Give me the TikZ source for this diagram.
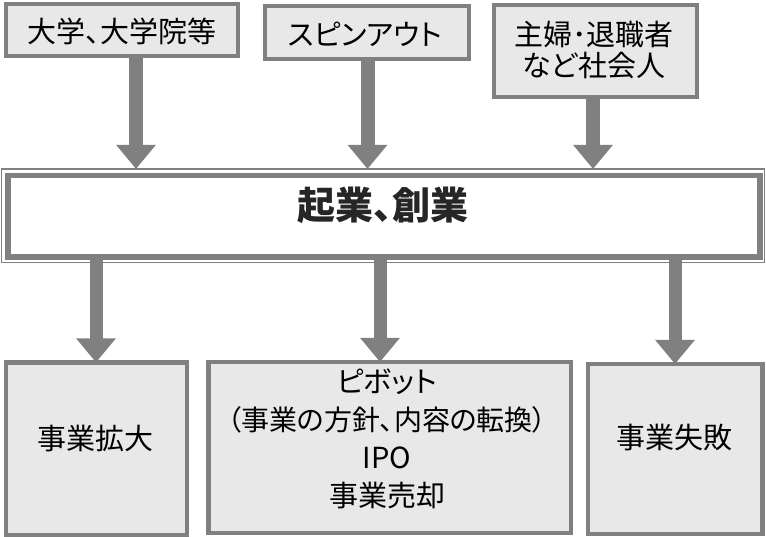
\documentclass[tikz,border=0pt]{standalone}
\usepackage{fontspec}
\setmainfont{Noto Sans CJK JP}[RawFeature=+palt]
\usetikzlibrary{arrows.meta}
\definecolor{bordergray}{HTML}{808080}
\definecolor{boxfill}{HTML}{E8E8E8}
\definecolor{titletext}{HTML}{262626}
\begin{document}
\begin{tikzpicture}[x=1pt,y=-1pt,
  box/.style={rectangle, draw=bordergray, fill=boxfill, line width=4.5pt, inner sep=0pt, outer sep=0pt},
  midbox/.style={rectangle, draw=bordergray, fill=white, line width=5.5pt, inner sep=0pt, outer sep=0pt},
  lbl/.style={inner sep=0pt, align=center, text=black, font=\fontsize{29}{31}\selectfont},
  bigarrow/.style={draw=bordergray, line width=14pt, -{Triangle[width=38pt,length=24pt]}},
]
\useasboundingbox (0,0) rectangle (766,537);

% top boxes
\node[box, minimum width=232pt, minimum height=52pt] (t1) at (122,30) {};
\node[box, minimum width=204pt, minimum height=53pt] (t2) at (367,32.5) {};
\node[box, minimum width=203pt, minimum height=92pt] (t3) at (595.5,51) {};
\node[lbl] (t1l) at (122,31) {大学、大学院等};
\node[lbl] (t2l) at (365,34) {スピンアウト};
\node[lbl] (t3l) at (594,50) {主婦･退職者\\など社会人};

% middle box
\node[midbox, minimum width=752pt, minimum height=81.5pt] (mid) at (384,216.25) {};
\draw[draw=bordergray, line width=1.5pt] ([xshift=-6.5pt,yshift=6.5pt]mid.north west) rectangle ([xshift=4.5pt,yshift=-5.5pt]mid.south east);
\node[inner sep=0pt, text=titletext, font=\fontsize{38}{40}\selectfont\bfseries] (midl) at (383,205) {起業、創業};

% bottom boxes
\node[box, minimum width=181pt, minimum height=172.5pt] (b1) at (96.5,448.75) {};
\node[box, minimum width=362.5pt, minimum height=171pt] (b2) at (389.75,447.5) {};
\node[box, minimum width=174.5pt, minimum height=170pt] (b3) at (675.25,449) {};
\node[lbl] (b1l) at (95,439) {事業拡大};
\node[lbl, font=\fontsize{29}{38}\selectfont] (b2l) at (387,439) {ピボット\\{\fontsize{28}{38}\selectfont （事業の方針、内容の転換）}\\IPO\\事業売却};
\node[lbl] (b3l) at (674,438) {事業失敗};

% arrow positions
\coordinate (x1) at (136,0);
\coordinate (x2) at (367.5,0);
\coordinate (x3) at (593,0);
\coordinate (y1) at (96,0);
\coordinate (y2) at (380,0);
\coordinate (y3) at (675,0);
\coordinate (topline) at (0,169);

\draw[bigarrow] (t1.south -| x1) -- (topline -| x1);
\draw[bigarrow] (t2.south -| x2) -- (topline -| x2);
\draw[bigarrow] (t3.south -| x3) -- (topline -| x3);

\draw[bigarrow, line width=13pt] (mid.south -| y1) -- (b1.north -| y1);
\draw[bigarrow, line width=13pt] (mid.south -| y2) -- (b2.north -| y2);
\draw[bigarrow, line width=13pt] (mid.south -| y3) -- (b3.north -| y3);
\end{tikzpicture}
\end{document}
